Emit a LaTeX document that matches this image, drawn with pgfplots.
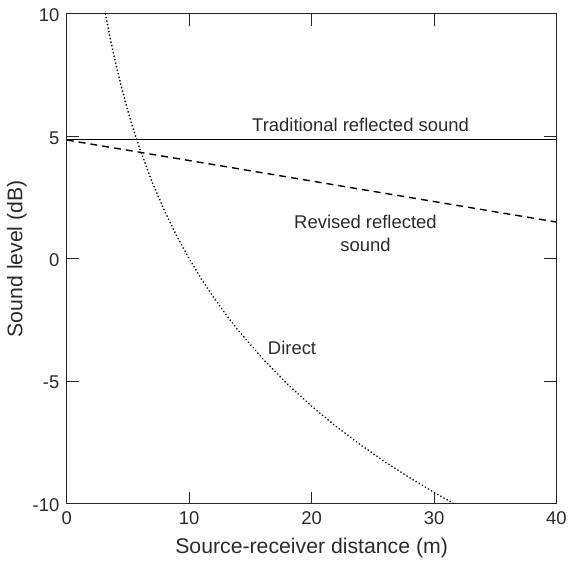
\documentclass[border=0pt]{standalone}
\usepackage{pgfplots}
\pgfplotsset{compat=1.18}
\usepackage{fontspec}
\setmainfont{Liberation Sans}
\definecolor{txt}{HTML}{2A2A2A}
\begin{document}
\begin{tikzpicture}
\begin{axis}[
  width=491pt, height=491pt, scale only axis,
  xmin=0, xmax=40, ymin=-10, ymax=10,
  xtick={0,10,20,30,40}, ytick={-10,-5,0,5,10},
  tick pos=both, xticklabel pos=bottom, yticklabel pos=left,
  tick align=inside, major tick length=12pt,
  axis line style={line width=1pt, black!85},
  major tick style={line width=1pt, black!85},
  /pgf/number format/assume math mode=true,
  ticklabel style={font=\fontsize{18.5}{20}\selectfont, text=txt},
  xticklabel style={yshift=-5pt},
  yticklabel style={xshift=-4pt, yshift=-1.5pt},
  label style={font=\fontsize{21.3}{24}\selectfont, text=txt},
  xlabel={Source-receiver distance (m)},
  ylabel={Sound level (dB)},
  xlabel style={at={(axis description cs:0.5,0)}, anchor=center, yshift=-45pt},
  ylabel style={at={(axis description cs:0,0.5)}, anchor=center, rotate=0, yshift=50pt},
  clip=true,
]
% Traditional reflected sound
\addplot[black, line width=1.6pt] coordinates {(0,4.87) (40,4.87)};
% Revised reflected sound
\addplot[black, line width=1.4pt, dash pattern=on 7pt off 5pt] coordinates {(0,4.85) (40,1.5)};
% Direct sound
\addplot[black, line width=1.8pt, line cap=round, dash pattern=on 0.1pt off 3.5pt] coordinates {
(3.16,10.0) (3.5,9.12) (4,7.96) (4.5,6.94) (5,6.02) (5.5,5.19) (6,4.44) (7,3.10)
(8,1.94) (9,0.92) (10,0.0) (11,-0.83) (12,-1.58) (13,-2.28) (14,-2.92) (16,-4.08)
(18,-5.11) (20,-6.02) (22,-6.85) (24,-7.60) (26,-8.30) (28,-8.94) (30,-9.54) (31.6,-10.0)};
\node[font=\fontsize{18.5}{20}\selectfont, text=txt] at (axis cs:24.0,5.48) {Traditional reflected sound};
\node[font=\fontsize{18.5}{23}\selectfont, text=txt, align=center] at (axis cs:24.4,1.04) {Revised reflected\\sound};
\node[font=\fontsize{18.5}{20}\selectfont, text=txt] at (axis cs:18.4,-3.65) {Direct};
\end{axis}
\useasboundingbox ([xshift=-67pt,yshift=-58pt]current axis.south west) rectangle ([xshift=12pt,yshift=14pt]current axis.north east);
\end{tikzpicture}
\end{document}
